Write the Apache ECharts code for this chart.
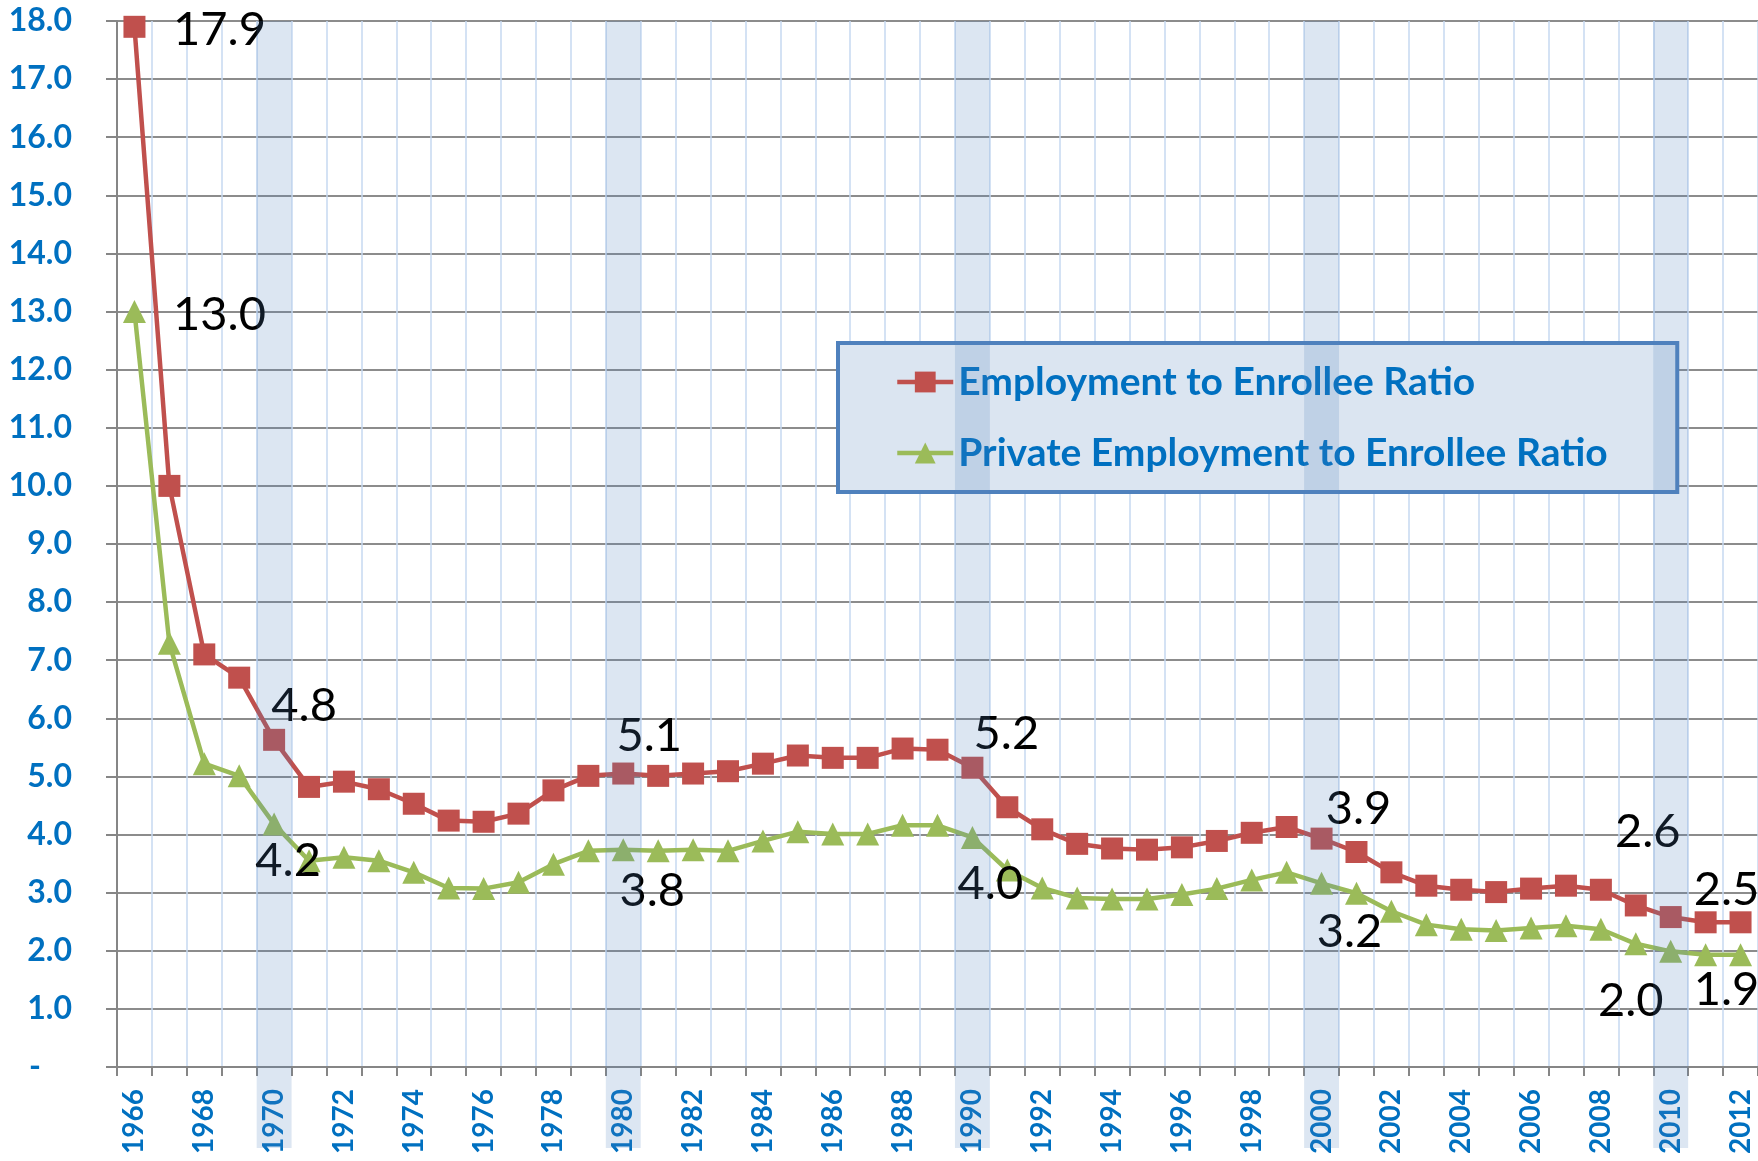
<html>
<head>
<meta charset="utf-8">
<title>Employment to Enrollee Ratio</title>
<script src="https://cdn.jsdelivr.net/npm/echarts@6/dist/echarts.min.js"></script>
<style>
  body { margin: 0; background: #fff; }
  #main { width: 1758px; height: 1161px; }
</style>
</head>
<body>
<div id="main"></div>
<script type="text/javascript">

// years on the category axis
var years = [];
for (var y = 1966; y <= 2012; y++) years.push(String(y));

// Employment to Enrollee Ratio
var empRatio = [17.9, 10.0, 7.1, 6.7, 5.63, 4.82, 4.91, 4.78, 4.53, 4.24,
                4.22, 4.36, 4.76, 5.01, 5.05, 5.01, 5.05, 5.09, 5.22, 5.36,
                5.32, 5.32, 5.48, 5.46, 5.15, 4.47, 4.09, 3.84, 3.76, 3.74,
                3.78, 3.89, 4.03, 4.13, 3.93, 3.70, 3.35, 3.12, 3.05, 3.01,
                3.07, 3.12, 3.05, 2.78, 2.58, 2.49, 2.49];

// Private Employment to Enrollee Ratio
var privRatio = [13.0, 7.29, 5.22, 5.01, 4.18, 3.55, 3.61, 3.55, 3.35, 3.08,
                 3.07, 3.18, 3.49, 3.72, 3.74, 3.72, 3.74, 3.72, 3.89, 4.05,
                 4.01, 4.01, 4.16, 4.16, 3.95, 3.39, 3.08, 2.91, 2.89, 2.89,
                 2.97, 3.07, 3.22, 3.35, 3.16, 2.99, 2.68, 2.45, 2.37, 2.35,
                 2.39, 2.43, 2.37, 2.12, 1.99, 1.93, 1.93];

// shaded decade columns
var bandYears = ['1970', '1980', '1990', '2000', '2010'];

// data label texts (as printed on the chart)
var empLabelYears  = ['1966', '1970', '1980', '1990', '2000', '2010', '2012'];
var empLabelText   = ['17.9', '4.8', '5.1', '5.2', '3.9', '2.6', '2.5'];
var privLabelYears = ['1966', '1970', '1980', '1990', '2000', '2010', '2012'];
var privLabelText  = ['13.0', '4.2', '3.8', '4.0', '3.2', '2.0', '1.9'];

// label offsets from the point (styling only)
var empOffsets  = [[85, 3], [30, -34], [26, -38], [34, -34], [37, -30], [-23, -85], [-14, -32]];
var privOffsets = [[85, 3], [14, 37], [29, 41], [18, 46], [28, 48], [-40, 49], [-14, 35]];

var FONT = 'Lato, "Open Sans", sans-serif';

function withLabels(values, labYears, labText, offsets) {
    return values.map(function (v, i) {
        var k = labYears.indexOf(years[i]);
        if (k < 0) return v;
        return {
            value: v,
            label: {
                show: true,
                position: 'inside',
                offset: offsets[k],
                formatter: labText[k],
                color: '#000',
                fontFamily: FONT,
                fontSize: 47
            }
        };
    });
}

var bandData = years.map(function (yr) {
    return bandYears.indexOf(yr) >= 0 ? 1 : 0;
});

var myChart = echarts.init(document.getElementById('main'));

var option = {
    backgroundColor: '#ffffff',
    animation: false,
    textStyle: { fontFamily: FONT },
    grid: [
        { left: 117, right: 0, top: 21, bottom: 94 },
        { left: 117, right: 0, top: 21, bottom: 13 }
    ],
    legend: {
        data: ['Employment to Enrollee Ratio', 'Private Employment to Enrollee Ratio'],
        orient: 'vertical',
        left: 838,
        top: 343,
        padding: [19, 55, 19, 57],
        itemGap: 31,
        itemWidth: 56,
        itemHeight: 26,
        backgroundColor: '#DBE5F1',
        borderColor: '#4F81BD',
        borderWidth: 4,
        lineStyle: { width: 4.5 },
        textStyle: {
            fontFamily: FONT,
            fontSize: 39,
            fontWeight: 'bold',
            color: '#0070C0',
            lineHeight: 40,
            width: 664
        }
    },
    xAxis: [{
        type: 'category',
        data: years,
        boundaryGap: true,
        axisLine: { lineStyle: { color: '#868686', width: 2 } },
        axisTick: { show: true, interval: 0, length: 9, lineStyle: { color: '#868686', width: 2 } },
        axisLabel: {
            interval: 1,
            rotate: 90,
            margin: 22,
            fontFamily: FONT,
            fontSize: 28,
            fontWeight: 'bold',
            color: '#0070C0'
        },
        splitLine: { show: true, interval: 0, lineStyle: { color: '#C6D9F1', width: 1.5 } }
    }, {
        type: 'category',
        data: years,
        gridIndex: 1,
        boundaryGap: true,
        show: false
    }],
    yAxis: [{
        type: 'value',
        min: 0,
        max: 18,
        interval: 1,
        axisLine: { show: true, lineStyle: { color: '#868686', width: 2 } },
        axisTick: { show: true, length: 11, lineStyle: { color: '#868686', width: 2 } },
        axisLabel: {
            margin: 45,
            fontFamily: FONT,
            fontSize: 32,
            fontWeight: 'bold',
            color: '#0070C0',
            formatter: function (v) { return v === 0 ? '-    ' : v.toFixed(1); }
        },
        splitLine: { show: true, lineStyle: { color: '#8C8C8C', width: 2 } }
    }, {
        type: 'value',
        gridIndex: 1,
        min: 0,
        max: 1,
        show: false
    }],
    series: [
        {
            name: 'Employment to Enrollee Ratio',
            type: 'line',
            data: withLabels(empRatio, empLabelYears, empLabelText, empOffsets),
            symbol: 'rect',
            symbolSize: 22,
            itemStyle: { color: '#C0504D' },
            lineStyle: { color: '#C0504D', width: 4.5 },
            z: 3
        },
        {
            name: 'Private Employment to Enrollee Ratio',
            type: 'line',
            data: withLabels(privRatio, privLabelYears, privLabelText, privOffsets),
            symbol: 'triangle',
            symbolSize: 23,
            itemStyle: { color: '#9BBB59' },
            lineStyle: { color: '#9BBB59', width: 4.5 },
            z: 2
        },
        {
            name: 'bands',
            type: 'bar',
            xAxisIndex: 1,
            yAxisIndex: 1,
            data: bandData,
            barWidth: '100%',
            silent: true,
            itemStyle: { color: 'rgba(79,129,189,0.2)' },
            z: 10
        }
    ]
};

myChart.setOption(option);

</script>
</body>
</html>
